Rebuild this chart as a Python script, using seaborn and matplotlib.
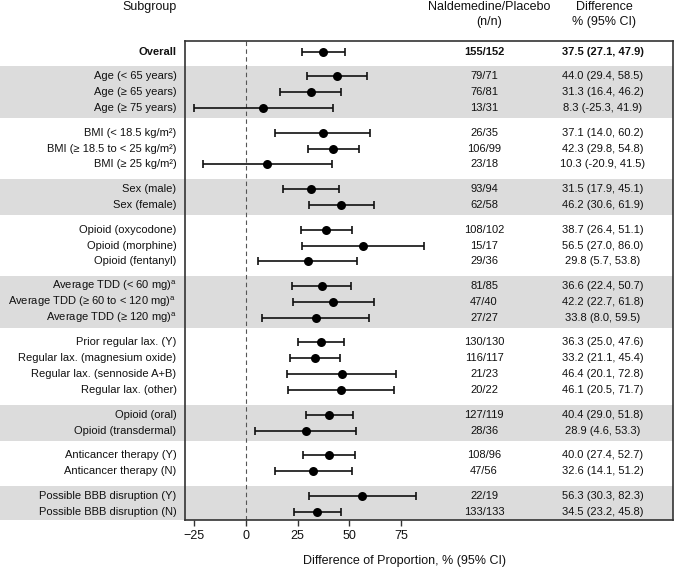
import numpy as np
import pandas as pd
import matplotlib
matplotlib.use("Agg")
import matplotlib.pyplot as plt
import seaborn as sns

# Subgroup rows, top to bottom
labels = [
    "Overall",
    "Age (< 65 years)", "Age (\u2265 65 years)", "Age (\u2265 75 years)",
    "BMI (< 18.5 kg/m\u00b2)", "BMI (\u2265 18.5 to < 25 kg/m\u00b2)", "BMI (\u2265 25 kg/m\u00b2)",
    "Sex (male)", "Sex (female)",
    "Opioid (oxycodone)", "Opioid (morphine)", "Opioid (fentanyl)",
    "Average TDD (< 60 mg)$^\\mathrm{a}$", "Average TDD (\u2265 60 to < 120 mg)$^\\mathrm{a}$",
    "Average TDD (\u2265 120 mg)$^\\mathrm{a}$",
    "Prior regular lax. (Y)", "Regular lax. (magnesium oxide)", "Regular lax. (sennoside A+B)",
    "Regular lax. (other)",
    "Opioid (oral)", "Opioid (transdermal)",
    "Anticancer therapy (Y)", "Anticancer therapy (N)",
    "Possible BBB disruption (Y)", "Possible BBB disruption (N)",
]
group_sizes = [1, 3, 3, 2, 3, 3, 4, 2, 2, 2]
n_counts = ["155/152", "79/71", "76/81", "13/31", "26/35", "106/99", "23/18", "93/94", "62/58",
            "108/102", "15/17", "29/36", "81/85", "47/40", "27/27", "130/130", "116/117", "21/23",
            "20/22", "127/119", "28/36", "108/96", "47/56", "22/19", "133/133"]
estimate = [37.5, 44.0, 31.3, 8.3, 37.1, 42.3, 10.3, 31.5, 46.2, 38.7, 56.5, 29.8, 36.6, 42.2,
            33.8, 36.3, 33.2, 46.4, 46.1, 40.4, 28.9, 40.0, 32.6, 56.3, 34.5]
ci_low = [27.1, 29.4, 16.4, -25.3, 14.0, 29.8, -20.9, 17.9, 30.6, 26.4, 27.0, 5.7, 22.4, 22.7,
          8.0, 25.0, 21.1, 20.1, 20.5, 29.0, 4.6, 27.4, 14.1, 30.3, 23.2]
ci_high = [47.9, 58.5, 46.2, 41.9, 60.2, 54.8, 41.5, 45.1, 61.9, 51.1, 86.0, 53.8, 50.7, 61.8,
           59.5, 47.6, 45.4, 72.8, 71.7, 51.8, 53.3, 52.7, 51.2, 82.3, 45.8]
x_ticks = [-25, 0, 25, 50, 75]

sns.set_theme(style="white")
plt.rcParams["font.family"] = ["Liberation Sans", "DejaVu Sans"]
plt.rcParams["mathtext.fontset"] = "custom"
plt.rcParams["mathtext.rm"] = "Liberation Sans"
plt.rcParams["axes.unicode_minus"] = True

# row positions: step 1 inside a group, bigger step between groups
GAP = 1.55
group_id = np.repeat(np.arange(len(group_sizes)), group_sizes)
pos = [0.0]
for i in range(1, len(labels)):
    pos.append(pos[-1] + (GAP if group_id[i] != group_id[i - 1] else 1.0))
pos = np.array(pos)

df = pd.DataFrame({"label": labels, "n": n_counts, "est": estimate,
                   "lo": ci_low, "hi": ci_high, "pos": pos, "grp": group_id})

W, H = 674, 570
fig = plt.figure(figsize=(W / 100, H / 100), dpi=100)
left, right, top, bottom = 184.7, 673.0, 40.7, 520.0
ax = fig.add_axes([left / W, 1 - bottom / H, (right - left) / W, (bottom - top) / H])

y_top = pos[0] - 0.69
y_bot = pos[-1] + 0.52
ax.set_ylim(y_bot, y_top)
ax.set_xlim(-29.6, 206.5)

# gray bands on alternating groups, running out to the left edge
pad = 0.63
lab_frac = -left / (right - left)
for g in range(1, len(group_sizes), 2):
    rows = df[df.grp == g]
    y0 = max(rows.pos.min() - pad, y_top)
    y1 = min(rows.pos.max() + pad, y_bot)
    ax.axhspan(y0, y1, xmin=lab_frac, xmax=1, color="#dcdcdc", lw=0, zorder=0, clip_on=False)

ax.axvline(0, color="#555555", lw=0.8, ls=(0, (4, 3)), zorder=1)

ax.errorbar(df.est, df.pos, xerr=[df.est - df.lo, df.hi - df.est], fmt="none",
            ecolor="#111111", elinewidth=1.2, capsize=2.6, capthick=1.2, zorder=2)
sns.scatterplot(data=df, x="est", y="pos", ax=ax, color="black", s=42,
                edgecolor="black", linewidth=0, zorder=3, legend=False)

n_x = (484 - left) / (right - left)
d_x = (603 - left) / (right - left)
l_x = (176.5 - left) / (right - left)
fs = 8
hfs = 9
for i, r in df.iterrows():
    wt = "bold" if i == 0 else "normal"
    tr = ax.get_yaxis_transform()
    ax.text(l_x, r.pos, r.label, transform=tr, ha="right", va="center", fontsize=fs,
            fontweight=wt, clip_on=False, color="#111111")
    ax.text(n_x, r.pos, r.n, transform=tr, ha="center", va="center", fontsize=fs,
            fontweight=wt, color="#111111")
    ax.text(d_x, r.pos, f"{r.est:.1f} ({r.lo:.1f}, {r.hi:.1f})", transform=tr, ha="center",
            va="center", fontsize=fs, fontweight=wt, color="#111111")

# column headers
fig.text(177 / W, 1 - 7 / H, "Subgroup", ha="right", va="center", fontsize=hfs, color="#111111")
fig.text(489 / W, 1 - 7 / H, "Naldemedine/Placebo", ha="center", va="center", fontsize=hfs, color="#111111")
fig.text(489 / W, 1 - 22.5 / H, "(n/n)", ha="center", va="center", fontsize=hfs, color="#111111")
fig.text(604 / W, 1 - 7 / H, "Difference", ha="center", va="center", fontsize=hfs, color="#111111")
fig.text(604 / W, 1 - 22.5 / H, "% (95% CI)", ha="center", va="center", fontsize=hfs, color="#111111")
fig.text(404 / W, 1 - 561 / H, "Difference of Proportion, % (95% CI)", ha="center", va="center",
         fontsize=hfs, color="#111111")

ax.set_yticks([])
ax.set_xticks(x_ticks)
ax.tick_params(axis="x", bottom=True, direction="out", length=4, width=1, color="#333333",
               labelsize=hfs, pad=3, labelcolor="#111111")
ax.set_xlabel("")
ax.set_ylabel("")
for s in ax.spines.values():
    s.set_color("#333333")
    s.set_linewidth(1.2)
ax.set_facecolor("white")

fig.savefig("out.png", dpi=100)
